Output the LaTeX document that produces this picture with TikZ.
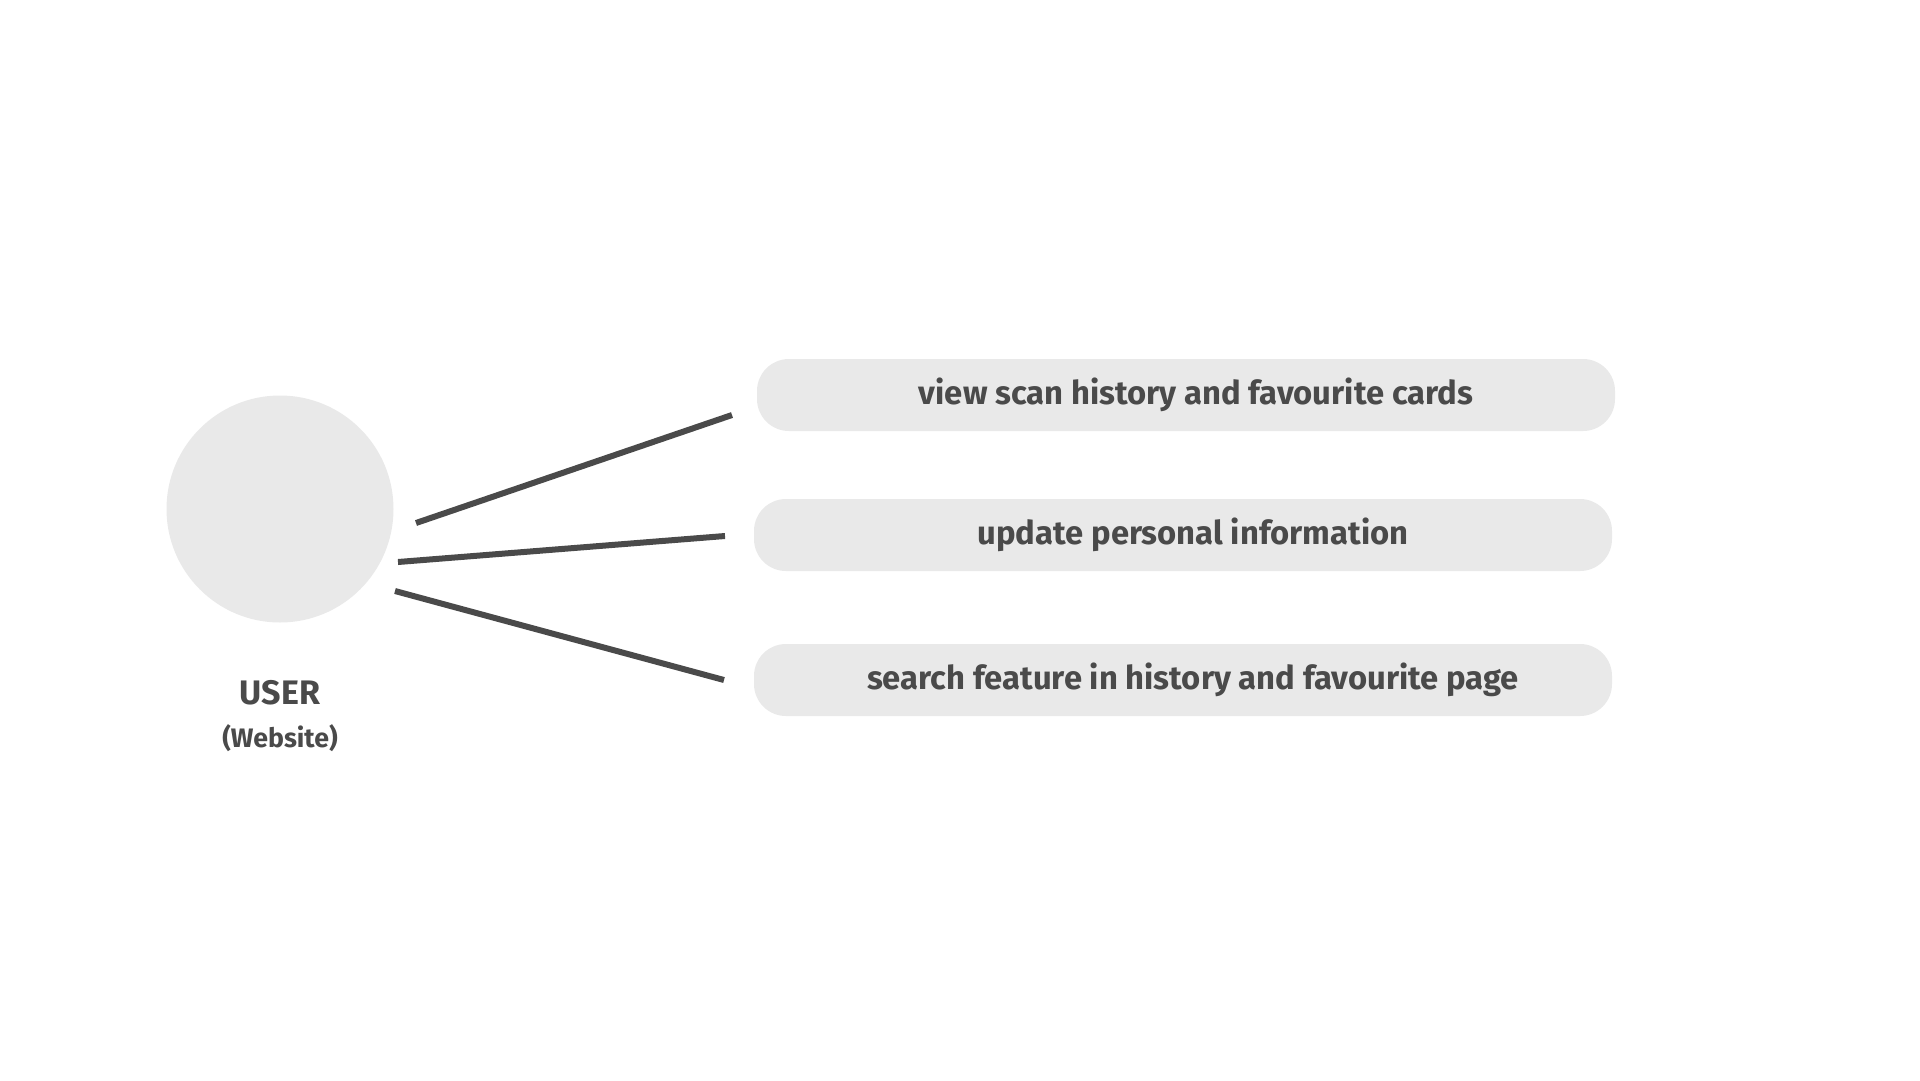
\documentclass[tikz,border=0pt]{standalone}
\usepackage{fontspec}
\setmainfont{Fira Sans}[UprightFont={* Bold}]
\begin{document}
\begin{tikzpicture}[x=1pt,y=-1pt,
  txt/.style={text=textgray,inner sep=0pt,font=\fontsize{32.8}{38}\selectfont},
  usecase/.style={fill=boxgray,rounded corners=32pt,minimum width=858pt,minimum height=72pt,inner sep=0pt},
  conn/.style={draw=linegray,line width=6pt}]
\definecolor{textgray}{HTML}{4A4A4A}
\definecolor{boxgray}{HTML}{E9E9E9}
\definecolor{linegray}{HTML}{4A4A4A}
\useasboundingbox (0,0) rectangle (1920,1080);
\fill[white] (0,0) rectangle (1920,1080);
% actor
\node[circle,fill=boxgray,minimum size=227pt,inner sep=0pt] (user) at (280,509) {};
\node[txt,font=\fontsize{34}{38}\selectfont] (userlbl) at (280,693) {USER};
\node[txt,font=\fontsize{26.7}{30}\selectfont] (weblbl) at (280,738) {(Website)};
% use cases
\node[usecase] (uc1) at (1186,395) {};
\node[usecase] (uc2) at (1183,535) {};
\node[usecase] (uc3) at (1183,680) {};
\node[txt] (t1) at (1196,395) {view scan history and favourite cards};
\node[txt] (t2) at (1193,535) {update personal information};
\node[txt] (t3) at (1193,680) {search feature in history and favourite page};
% connector ends
\coordinate (a1) at (416,523);
\coordinate (b1) at (732,415);
\coordinate (a2) at (398,562);
\coordinate (b2) at (725,536);
\coordinate (a3) at (395,591);
\coordinate (b3) at (724,680);
\draw[conn] (a1) -- (b1);
\draw[conn] (a2) -- (b2);
\draw[conn] (a3) -- (b3);
\end{tikzpicture}
\end{document}
